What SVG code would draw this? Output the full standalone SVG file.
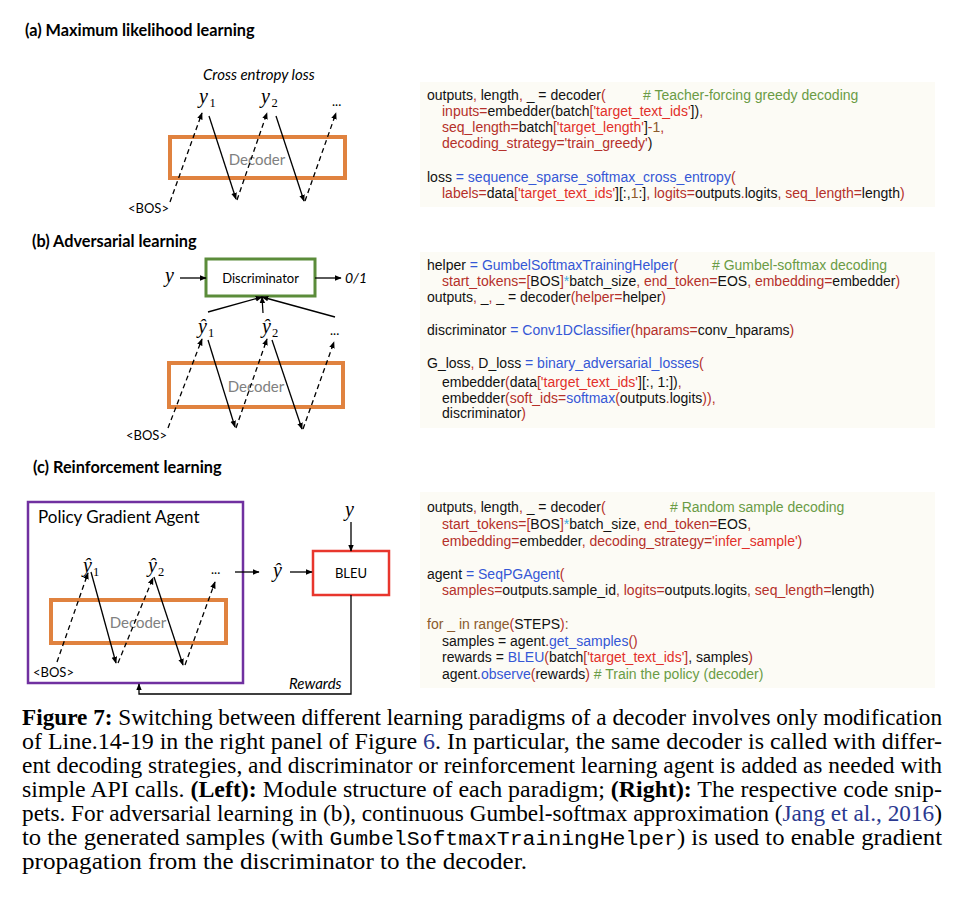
<svg xmlns="http://www.w3.org/2000/svg" width="964" height="902" viewBox="0 0 964 902">
<style>
.ttl{font-family:Lato,"Open Sans",sans-serif;font-weight:bold;font-size:16.3px;fill:#000}
.lbl{font-family:Lato,"Open Sans",sans-serif;font-size:13px;fill:#000}
.it{font-family:Lato,"Open Sans",sans-serif;font-style:italic;font-size:15px;fill:#000}
.dec{font-family:Lato,"Open Sans",sans-serif;font-size:15px;fill:#808080;text-anchor:middle}
.m{font-family:"Liberation Serif",serif;font-style:italic;font-size:20px;fill:#000}
.sub{font-family:"Liberation Serif",serif;font-size:12.5px;fill:#000}
.decbox{fill:none;stroke:#E0823F;stroke-width:4}
.sol{fill:none;stroke:#000;stroke-width:1.3}
.dash{fill:none;stroke:#000;stroke-width:1.3;stroke-dasharray:5,3.5}
.codebg{fill:#FCFBF5}
.code{font-family:"Liberation Sans",Arial,sans-serif;font-size:14px;fill:#111}
.r{fill:#B5302A}.s{fill:#E2302A}.g{fill:#6A9B45}.b{fill:#3557D6}.n{fill:#8B5A2B}.c{fill:#3FA9DE}
.cap{font-family:"Liberation Serif","Times New Roman",serif;font-size:23px;fill:#000}
.bd{font-weight:bold}.lk{fill:#2B3990}
.mono{font-family:"Liberation Mono","Courier New",monospace;font-size:20px}
</style>
<defs>
<marker id="ah" viewBox="0 0 10 10" refX="9" refY="5" markerWidth="7" markerHeight="7" markerUnits="userSpaceOnUse" orient="auto"><path d="M0,1 L10,5 L0,9 z" fill="#000"/></marker>
</defs>

<!-- Panel (a) -->
<g id="panel-a">
<text class="ttl" x="25" y="36">(a) Maximum likelihood learning</text>
<text class="it" x="203" y="80">Cross entropy loss</text>
<g id="a-y1"><text class="m" x="199" y="103">y</text><text class="sub" x="209.5" y="107">1</text></g>
<g id="a-y2"><text class="m" x="261" y="103">y</text><text class="sub" x="271.5" y="107">2</text></g>
<text class="lbl" x="332" y="106">...</text>
<g id="a-decoder"><rect class="decbox" x="170" y="137" width="175" height="41"/><text class="dec" x="257" y="165">Decoder</text></g>
<text class="lbl" x="128" y="213">&lt;BOS&gt;</text>
</g>

<!-- Panel (b) -->
<g id="panel-b">
<text class="ttl" x="32" y="247">(b) Adversarial learning</text>
<g id="b-disc"><rect x="206" y="259" width="109" height="37" fill="#fff" stroke="#5B8C3A" stroke-width="3"/><text class="lbl" x="260.5" y="283" text-anchor="middle" style="font-size:13px">Discriminator</text></g>
<text class="m" x="165" y="282">y</text>
<text class="it" x="345" y="283" style="font-size:14px">0/1</text>
<g id="b-y1"><text class="m" x="198" y="333">ŷ</text><text class="sub" x="208" y="337">1</text></g>
<g id="b-y2"><text class="m" x="262" y="333">ŷ</text><text class="sub" x="272" y="337">2</text></g>
<text class="lbl" x="330" y="335">...</text>
<g id="b-decoder"><rect class="decbox" x="169" y="363" width="174" height="44"/><text class="dec" x="256" y="392">Decoder</text></g>
<text class="lbl" x="126" y="440">&lt;BOS&gt;</text>
</g>

<!-- Panel (c) -->
<g id="panel-c">
<text class="ttl" x="33" y="473">(c) Reinforcement learning</text>
<g id="c-agent"><rect x="28" y="502" width="215" height="181" fill="none" stroke="#7030A0" stroke-width="2.5"/><text class="lbl" x="38" y="523" style="font-size:17px">Policy Gradient Agent</text></g>
<g id="c-y1"><text class="m" x="83" y="572">ŷ</text><text class="sub" x="93" y="576">1</text></g>
<g id="c-y2"><text class="m" x="148" y="572">ŷ</text><text class="sub" x="158" y="576">2</text></g>
<text class="lbl" x="211" y="574">...</text>
<g id="c-decoder"><rect class="decbox" x="51" y="600" width="175" height="43"/><text class="dec" x="138" y="628">Decoder</text></g>
<text class="lbl" x="33" y="677">&lt;BOS&gt;</text>
<g id="c-yhat"><text class="m" x="273" y="577">ŷ</text></g>
<g id="c-ytrue"><text class="m" x="345" y="516">y</text></g>
<g id="c-bleu"><rect x="313" y="551" width="76" height="44" fill="#fff" stroke="#E8362D" stroke-width="2.5"/><text class="lbl" x="351" y="578" text-anchor="middle">BLEU</text></g>
<text class="it" x="289" y="689">Rewards</text>
</g>

<!-- Connectors -->
<g id="connectors">
<!-- (a) -->
<line class="dash" x1="170" y1="202" x2="202" y2="113" marker-end="url(#ah)"/>
<line class="sol" x1="209" y1="116" x2="236" y2="199" marker-end="url(#ah)"/>
<line class="dash" x1="237" y1="200" x2="267" y2="113" marker-end="url(#ah)"/>
<line class="sol" x1="276" y1="116" x2="304" y2="201" marker-end="url(#ah)"/>
<line class="dash" x1="305" y1="201" x2="336" y2="113" marker-end="url(#ah)"/>
<!-- (b) -->
<line class="sol" x1="180" y1="278" x2="206" y2="278" marker-end="url(#ah)"/>
<line class="sol" x1="315" y1="278" x2="341" y2="278" marker-end="url(#ah)"/>
<line class="sol" x1="208" y1="312" x2="262" y2="297" marker-end="url(#ah)"/>
<line class="sol" x1="263" y1="313" x2="262" y2="297" marker-end="url(#ah)"/>
<line class="sol" x1="335" y1="317" x2="262" y2="297" marker-end="url(#ah)"/>
<line class="dash" x1="168" y1="428" x2="202" y2="339" marker-end="url(#ah)"/>
<line class="sol" x1="208" y1="340" x2="235" y2="427" marker-end="url(#ah)"/>
<line class="dash" x1="236" y1="428" x2="267" y2="339" marker-end="url(#ah)"/>
<line class="sol" x1="272" y1="340" x2="302" y2="429" marker-end="url(#ah)"/>
<line class="dash" x1="303" y1="429" x2="334" y2="342" marker-end="url(#ah)"/>
<!-- (c) -->
<line class="dash" x1="57" y1="662" x2="88" y2="573" marker-end="url(#ah)"/>
<line class="sol" x1="91" y1="572" x2="116" y2="663" marker-end="url(#ah)"/>
<line class="dash" x1="118" y1="663" x2="153" y2="578" marker-end="url(#ah)"/>
<line class="sol" x1="154" y1="577" x2="183" y2="665" marker-end="url(#ah)"/>
<line class="dash" x1="185" y1="665" x2="215" y2="582" marker-end="url(#ah)"/>
<line class="sol" x1="235" y1="572" x2="259" y2="572" marker-end="url(#ah)"/>
<line class="sol" x1="290" y1="572" x2="312" y2="572" marker-end="url(#ah)"/>
<line class="sol" x1="351" y1="522" x2="351" y2="551" marker-end="url(#ah)"/>
<polyline class="sol" points="351,595 351,694 139,694 139,684" marker-end="url(#ah)"/>
</g>

<!-- Code (a) -->
<g id="code-a">
<rect class="codebg" x="420" y="82" width="515" height="125"/>
<text class="code" x="427" y="100">outputs<tspan class="r">, </tspan>length<tspan class="r">, </tspan>_ = decoder<tspan class="r">(</tspan></text>
<text class="code g" x="643" y="100"># Teacher-forcing greedy decoding</text>
<text class="code" x="442" y="116"><tspan class="r">inputs=</tspan>embedder(batch<tspan class="r">[</tspan><tspan class="s">'target_text_ids'</tspan>])<tspan class="r">,</tspan></text>
<text class="code" x="442" y="132"><tspan class="r">seq_length=</tspan>batch<tspan class="r">[</tspan><tspan class="s">'target_length'</tspan>]<tspan class="r">-</tspan><tspan class="n">1</tspan><tspan class="r">,</tspan></text>
<text class="code" x="442" y="148"><tspan class="r">decoding_strategy='train_greedy'</tspan>)</text>
<text class="code" x="427" y="182">loss <tspan class="b">= sequence_sparse_softmax_cross_entropy</tspan><tspan class="r">(</tspan></text>
<text class="code" x="442" y="198"><tspan class="r">labels=</tspan>data<tspan class="r">[</tspan><tspan class="s">'target_text_ids'</tspan>][:,<tspan class="n">1</tspan>:]<tspan class="r">, logits=</tspan>outputs<tspan class="r">.</tspan>logits<tspan class="r">, seq_length=</tspan>length<tspan class="r">)</tspan></text>
</g>

<!-- Code (b) -->
<g id="code-b">
<rect class="codebg" x="420" y="252" width="515" height="176"/>
<text class="code" x="427" y="269.5">helper <tspan class="b">= GumbelSoftmaxTrainingHelper</tspan><tspan class="r">(</tspan></text>
<text class="code g" x="712" y="269.5"># Gumbel-softmax decoding</text>
<text class="code" x="442" y="285.5"><tspan class="r">start_tokens=[</tspan>BOS<tspan class="r">]</tspan><tspan class="c">*</tspan>batch_size<tspan class="r">, end_token=</tspan>EOS<tspan class="r">, embedding=</tspan>embedder<tspan class="r">)</tspan></text>
<text class="code" x="427" y="301.5">outputs<tspan class="r">, </tspan>_<tspan class="r">, </tspan>_ = decoder<tspan class="r">(helper=</tspan>helper<tspan class="r">)</tspan></text>
<text class="code" x="427" y="334.5">discriminator <tspan class="b">= Conv1DClassifier</tspan><tspan class="r">(hparams=</tspan>conv_hparams<tspan class="r">)</tspan></text>
<text class="code" x="427" y="367.5">G_loss<tspan class="r">, </tspan>D_loss <tspan class="b">= binary_adversarial_losses</tspan><tspan class="r">(</tspan></text>
<text class="code" x="442" y="386.5">embedder<tspan class="r">(</tspan>data<tspan class="r">[</tspan><tspan class="s">'target_text_ids'</tspan>][:, 1:])<tspan class="r">,</tspan></text>
<text class="code" x="442" y="402.5">embedder<tspan class="r">(soft_ids=</tspan><tspan class="b">softmax</tspan><tspan class="r">(</tspan>outputs<tspan class="r">.</tspan>logits<tspan class="r">)),</tspan></text>
<text class="code" x="442" y="417.5">discriminator<tspan class="r">)</tspan></text>
</g>

<!-- Code (c) -->
<g id="code-c">
<rect class="codebg" x="420" y="492" width="515" height="196"/>
<text class="code" x="427" y="511.5">outputs<tspan class="r">, </tspan>length<tspan class="r">, </tspan>_ = decoder<tspan class="r">(</tspan></text>
<text class="code g" x="670" y="511.5"># Random sample decoding</text>
<text class="code" x="442" y="528.5"><tspan class="r">start_tokens=[</tspan>BOS<tspan class="r">]</tspan><tspan class="c">*</tspan>batch_size<tspan class="r">, end_token=</tspan>EOS<tspan class="r">,</tspan></text>
<text class="code" x="442" y="545.5"><tspan class="r">embedding=</tspan>embedder<tspan class="r">, decoding_strategy=</tspan><tspan class="s">'infer_sample'</tspan><tspan class="r">)</tspan></text>
<text class="code" x="427" y="578.5">agent <tspan class="b">= SeqPGAgent</tspan><tspan class="r">(</tspan></text>
<text class="code" x="442" y="594.5"><tspan class="r">samples=</tspan>outputs.sample_id<tspan class="r">, logits=</tspan>outputs.logits<tspan class="r">, seq_length=</tspan>length)</text>
<text class="code" x="427" y="628.5"><tspan class="n">for _ in range</tspan><tspan class="r">(</tspan>STEPS<tspan class="r">)</tspan><tspan class="n">:</tspan></text>
<text class="code" x="442" y="645.5">samples = agent<tspan class="r">.</tspan><tspan class="b">get_samples</tspan><tspan class="r">()</tspan></text>
<text class="code" x="442" y="661.5">rewards = <tspan class="b">BLEU</tspan><tspan class="r">(</tspan>batch<tspan class="r">[</tspan><tspan class="s">'target_text_ids'</tspan><tspan class="r">]</tspan>, samples<tspan class="r">)</tspan></text>
<text class="code" x="442" y="678.5">agent<tspan class="r">.</tspan><tspan class="b">observe</tspan><tspan class="r">(</tspan>rewards<tspan class="r">)</tspan><tspan class="g"> # Train the policy (decoder)</tspan></text>
</g>

<!-- Caption -->
<g id="caption">
<text class="cap" x="22" y="725" textLength="920" lengthAdjust="spacingAndGlyphs"><tspan class="bd">Figure 7:</tspan> Switching between different learning paradigms of a decoder involves only modification</text>
<text class="cap" x="22" y="749" textLength="920" lengthAdjust="spacingAndGlyphs">of Line.14-19 in the right panel of Figure <tspan class="lk">6</tspan>.  In particular, the same decoder is called with differ-</text>
<text class="cap" x="22" y="773" textLength="920" lengthAdjust="spacingAndGlyphs">ent decoding strategies, and discriminator or reinforcement learning agent is added as needed with</text>
<text class="cap" x="22" y="797" textLength="920" lengthAdjust="spacingAndGlyphs">simple API calls.  <tspan class="bd">(Left):</tspan> Module structure of each paradigm; <tspan class="bd">(Right):</tspan> The respective code snip-</text>
<text class="cap" x="22" y="821" textLength="920" lengthAdjust="spacingAndGlyphs">pets. For adversarial learning in (b), continuous Gumbel-softmax approximation (<tspan class="lk">Jang et al., 2016</tspan>)</text>
<text class="cap" x="22" y="845" textLength="920" lengthAdjust="spacingAndGlyphs">to the generated samples (with <tspan class="mono">GumbelSoftmaxTrainingHelper</tspan>) is used to enable gradient</text>
<text class="cap" x="22" y="869" textLength="505" lengthAdjust="spacingAndGlyphs">propagation from the discriminator to the decoder.</text>
</g>
</svg>
